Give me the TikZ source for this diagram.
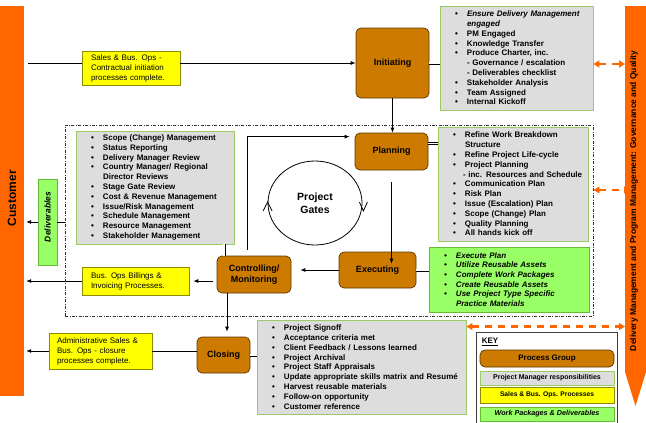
\documentclass[tikz,border=0pt]{standalone}
\usepackage{fontspec}
\setmainfont{Liberation Sans}
\usetikzlibrary{arrows.meta,shapes.geometric}
\definecolor{orng}{HTML}{FF6600}
\definecolor{brn}{HTML}{CC7A00}
\definecolor{brnline}{HTML}{5A3800}
\definecolor{gry}{HTML}{DDDDDD}
\definecolor{grnline}{HTML}{99CC66}
\definecolor{yel}{HTML}{FFFF00}
\definecolor{yelline}{HTML}{8C8C00}
\definecolor{lgrn}{HTML}{99FF66}
\definecolor{grnbord}{HTML}{66BB33}
\newcommand\lstitem[1]{\hspace*{15pt}\makebox[12pt][l]{\textbullet}#1}
\newcommand\lstcont[1]{\hspace*{27pt}#1}
\newcommand\lstsub[1]{\hspace*{25pt}#1}
\tikzset{
 pgbox/.style={draw=brnline, fill=brn, rounded corners=5pt, line width=0.7pt, inner sep=0pt, align=center, font=\bfseries\fontsize{9}{10.5}\selectfont},
 lstbox/.style={draw=grnline, fill=gry, line width=0.9pt, inner sep=0pt, align=left, font=\bfseries\fontsize{8}{9.8}\selectfont},
 ylwbox/.style={draw=yelline, fill=yel, line width=0.7pt, inner sep=0pt, align=left, font=\fontsize{8}{10}\selectfont},
 grnbox/.style={draw=grnbord, fill=lgrn, line width=0.9pt, inner sep=0pt, align=left, font=\bfseries\itshape\fontsize{8}{9.6}\selectfont},
 conn/.style={line width=0.8pt, -{Latex[length=5pt,width=4pt]}},
 plainln/.style={line width=0.8pt},
 dbl/.style={double distance=1.6pt, line width=0.7pt},
 oarr/.style={draw=orng, line width=2.2pt, dash pattern=on 7pt off 6pt, {Triangle[length=6pt,width=7pt]}-{Triangle[length=6pt,width=7pt]}},
}
\begin{document}
\begin{tikzpicture}[x=1pt,y=-1pt]
\useasboundingbox (0,0) rectangle (646,423);

% side bars
\node[fill=orng, minimum width=24, minimum height=390, inner sep=0] (cust) at (12,201) {};
\node[rotate=90, font=\bfseries\fontsize{12}{14}\selectfont, inner sep=0] (custtxt) at (12,198) {Customer};
\fill[orng] (625,6) -- (646,6) -- (646,372) -- (635.5,406) -- (625,372) -- cycle;
\coordinate (rbar) at (625,200);
\node[rotate=90, font=\bfseries\fontsize{8.5}{10}\selectfont, inner sep=0] (rbartxt) at (634,201) {Delivery Management and Program Management: Governance and Quality};

% frame
\node[draw=black!80, line width=0.7pt, dash pattern=on 3pt off 1.5pt on 0.8pt off 1.5pt, minimum width=528, minimum height=191, inner sep=0] (frame) at (329,220.5) {};

% process groups
\node[pgbox, minimum width=73, minimum height=70] (init) at (392.5,63) {Initiating};
\node[pgbox, minimum width=73, minimum height=37] (plan) at (391.5,151.5) {Planning};
\node[pgbox, minimum width=77, minimum height=36] (exec) at (377.5,270) {Executing};
\node[pgbox, minimum width=74, minimum height=37] (ctrl) at (254,274.5) {Controlling/\\Monitoring};
\node[pgbox, minimum width=53, minimum height=36] (close) at (223.5,355) {Closing};

% lists
\node[lstbox, minimum width=153, minimum height=104, text width=153] (initlist) at (516.5,58) {\lstitem{\textit{Ensure Delivery Management}}\\\lstcont{\textit{engaged}}\\\lstitem{PM Engaged}\\\lstitem{Knowledge Transfer}\\\lstitem{Produce Charter, inc.}\\\lstcont{- Governance / escalation}\\\lstcont{- Deliverables checklist}\\\lstitem{Stakeholder Analysis}\\\lstitem{Team Assigned}\\\lstitem{Internal Kickoff}};

\node[lstbox, minimum width=150, minimum height=114, text width=150] (planlist) at (513,184) {\lstitem{Refine Work Breakdown}\\\lstcont{Structure}\\\lstitem{Refine Project Life-cycle}\\\lstitem{Project Planning}\\\lstsub{- inc. Resources and Schedule}\\\lstitem{Communication Plan}\\\lstitem{Risk Plan}\\\lstitem{Issue (Escalation) Plan}\\\lstitem{Scope (Change) Plan}\\\lstitem{Quality Planning}\\\lstitem{All hands kick off}};

\node[grnbox, minimum width=160, minimum height=65, text width=160] (execlist) at (509,279.5) {\lstitem{Execute Plan}\\\lstitem{Utilize Reusable Assets}\\\lstitem{Complete Work Packages}\\\lstitem{Create Reusable Assets}\\\lstitem{Use Project Type Specific}\\\lstcont{Practice Materials}};

\node[lstbox, minimum width=158, minimum height=113, text width=158] (ctrllist) at (155,187.5) {\lstitem{Scope (Change) Management}\\\lstitem{Status Reporting}\\\lstitem{Delivery Manager Review}\\\lstitem{Country Manager/ Regional}\\\lstcont{Director Reviews}\\\lstitem{Stage Gate Review}\\\lstitem{Cost \& Revenue Management}\\\lstitem{Issue/Risk Management}\\\lstitem{Schedule Management}\\\lstitem{Resource Management}\\\lstitem{Stakeholder Management}};

\node[lstbox, minimum width=209, minimum height=94, text width=209] (closelist) at (361.5,367) {\lstitem{Project Signoff}\\\lstitem{Acceptance criteria met}\\\lstitem{Client Feedback / Lessons learned}\\\lstitem{Project Archival}\\\lstitem{Project Staff Appraisals}\\\lstitem{Update appropriate skills matrix and Resumé}\\\lstitem{Harvest reusable materials}\\\lstitem{Follow-on opportunity}\\\lstitem{Customer reference}};

% yellow boxes
\node[ylwbox, minimum width=98, minimum height=34, text width=80, inner xsep=9pt] (sales) at (131,68) {Sales \& Bus. Ops -\\Contractual initiation\\processes complete.};
\node[ylwbox, minimum width=107, minimum height=28, text width=89, inner xsep=9pt] (bill) at (135.5,281) {Bus. Ops Billings \&\\Invoicing Processes.};
\node[ylwbox, minimum width=103, minimum height=36, text width=87, inner xsep=8pt] (admin) at (100.5,351) {Administrative Sales \&\\Bus. Ops - closure\\processes complete.};

% deliverables
\node[fill=lgrn, draw=grnbord, line width=0.9pt, minimum width=19, minimum height=86, inner sep=0] (deliv) at (47.5,222) {};
\node[rotate=90, font=\bfseries\itshape\fontsize{8.5}{10}\selectfont, inner sep=0] (delivtxt) at (47.5,217) {Deliverables};

% project gates
\node[ellipse, draw, line width=0.8pt, minimum width=94, minimum height=84, inner sep=0, align=center, font=\bfseries\fontsize{10.5}{12.5}\selectfont] (gates) at (315,203) {Project\\Gates};
\draw[line width=0.8pt] ([shift={(-4.5,8)}]gates.west) -- ([shift={(0,-1)}]gates.west) -- ([shift={(4.5,8)}]gates.west);
\draw[line width=0.8pt] ([shift={(-3,-1)}]gates.east) -- ([shift={(1,8)}]gates.east) -- ([shift={(5,-1)}]gates.east);

% connectors
\coordinate (salesstart) at ([xshift=4pt]cust.east |- init.west);
\draw[plainln] (salesstart) -- (salesstart -| sales.west);
\draw[conn] (sales.east |- init.west) -- (init.west);
\draw[conn] (init.south) -- (init.south |- plan.north);
\draw[conn] ([yshift=-12pt]plan.south) -- ([yshift=-12pt]plan.south |- exec.north);
\draw[conn] (exec.west) -- ([xshift=9pt]exec.west -| ctrl.east);
\draw[conn] ([shift={(-7pt,6pt)}]ctrl.north) |- ([shift={(-5pt,-4pt)}]plan.north west);
\draw[conn] ([xshift=-4pt]ctrl.west |- bill.east) -- ([xshift=4pt]bill.east);
\draw[conn] (bill.west) -- ([xshift=2pt]cust.east |- bill.west);
\draw[dbl] ([xshift=-30pt]ctrl.north) -- ([xshift=-30pt]ctrl.north |- ctrllist.south);
\draw[conn] ([xshift=3.5pt]close.north |- ctrl.south) -- ([xshift=3.5pt,yshift=5pt]close.north);
\draw[plainln] (close.west |- admin.east) -- (admin.east);
\draw[conn] (admin.west) -- ([xshift=2pt]cust.east |- admin.west);
\draw[dbl] (init.east) -- (init.east -| initlist.west);
\draw[dbl] ([yshift=8pt]plan.east) -- ([yshift=8pt]plan.east -| planlist.west);
\draw[dbl] (exec.east) -- (exec.east -| execlist.west);
\draw[dbl] (close.east) -- (close.east -| closelist.west);
\draw[plainln] (frame.west |- deliv.east) -- (deliv.east);
\draw[conn] (deliv.west) -- ([xshift=2pt]cust.east |- deliv.west);

% orange governance arrows
\draw[oarr] ([yshift=-6pt]initlist.east) -- ([yshift=-6pt]initlist.east -| rbar);
\draw[oarr] ([shift={(5pt,-6pt)}]planlist.east) -- ([shift={(5pt,-6pt)}]planlist.east -| rbar);
\draw[oarr] ([yshift=-7pt]closelist.north east) -- ([yshift=-7pt]closelist.north east -| rbar);

% key
\node[draw=black!75, line width=0.8pt, minimum width=141, minimum height=91, inner sep=0, fill=white] (key) at (546.5,377.5) {};
\node[anchor=west, inner sep=0, font=\bfseries\fontsize{8}{9}\selectfont] (keylbl) at ([shift={(6pt,-10pt)}]key.north west) {\underline{KEY}};
\node[pgbox, minimum width=134, minimum height=17, font=\bfseries\fontsize{8}{9}\selectfont] (kpg) at (547,358.5) {Process Group};
\node[lstbox, minimum width=134, minimum height=14, align=center, font=\bfseries\fontsize{7}{8}\selectfont] (kpm) at (547,378) {Project Manager responsibilities};
\node[ylwbox, minimum width=134, minimum height=16, align=center, font=\bfseries\fontsize{6.7}{8}\selectfont] (ksales) at (547,395) {Sales \& Bus. Ops. Processes};
\node[grnbox, minimum width=134, minimum height=14, align=center, font=\bfseries\itshape\fontsize{7.2}{8}\selectfont] (kwp) at (547,414) {Work Packages \& Deliverables};
\end{tikzpicture}
\end{document}
